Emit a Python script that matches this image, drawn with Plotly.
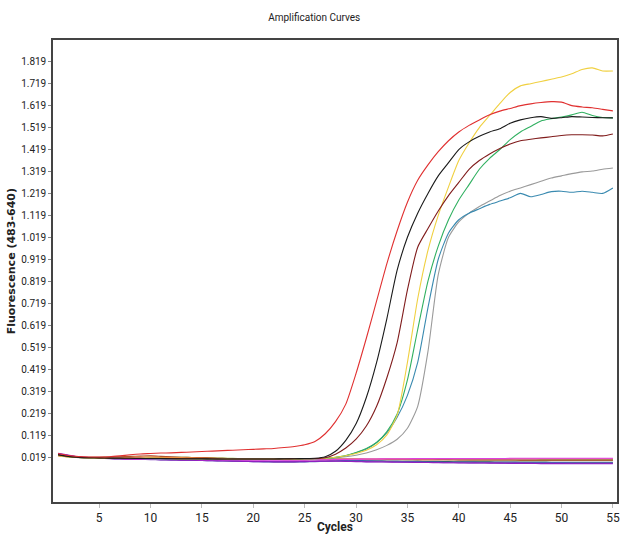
import plotly.graph_objects as go

cycles = list(range(1, 56))

y_ticks = [0.019, 0.119, 0.219, 0.319, 0.419, 0.519, 0.619, 0.719, 0.819, 0.919,
           1.019, 1.119, 1.219, 1.319, 1.419, 1.519, 1.619, 1.719, 1.819]
y_tick_text = ["%.3f" % v for v in y_ticks]
x_ticks = [5, 10, 15, 20, 25, 30, 35, 40, 45, 50, 55]

# positive samples
red = [0.035, 0.026, 0.021, 0.019, 0.019, 0.020, 0.024, 0.029, 0.033, 0.035,
       0.037, 0.038, 0.040, 0.042, 0.044, 0.046, 0.048, 0.050, 0.052, 0.054,
       0.056, 0.058, 0.062, 0.067, 0.075, 0.090, 0.125, 0.180, 0.260, 0.400,
       0.560, 0.730, 0.900, 1.050, 1.180, 1.280, 1.350, 1.410, 1.460, 1.500,
       1.530, 1.555, 1.578, 1.595, 1.607, 1.620, 1.628, 1.634, 1.638, 1.636,
       1.620, 1.614, 1.610, 1.603, 1.596]
black = [0.030, 0.022, 0.018, 0.016, 0.015, 0.014, 0.013, 0.013, 0.012, 0.012,
         0.012, 0.011, 0.011, 0.011, 0.011, 0.010, 0.010, 0.010, 0.010, 0.010,
         0.010, 0.010, 0.011, 0.011, 0.012, 0.013, 0.020, 0.045, 0.095, 0.170,
         0.290, 0.450, 0.650, 0.870, 1.020, 1.130, 1.220, 1.300, 1.360, 1.420,
         1.455, 1.480, 1.500, 1.515, 1.540, 1.555, 1.565, 1.570, 1.562, 1.565,
         1.570, 1.568, 1.566, 1.565, 1.564]
maroon = [0.028, 0.021, 0.017, 0.016, 0.015, 0.014, 0.014, 0.013, 0.013, 0.012,
          0.012, 0.012, 0.011, 0.011, 0.011, 0.011, 0.010, 0.010, 0.010, 0.010,
          0.010, 0.010, 0.010, 0.011, 0.011, 0.012, 0.016, 0.032, 0.060, 0.100,
          0.160, 0.250, 0.380, 0.540, 0.780, 0.975, 1.060, 1.140, 1.210, 1.270,
          1.330, 1.370, 1.400, 1.425, 1.445, 1.460, 1.467, 1.473, 1.478, 1.484,
          1.487, 1.487, 1.486, 1.482, 1.491]
yellow = [0.026, 0.020, 0.017, 0.015, 0.014, 0.014, 0.013, 0.013, 0.012, 0.012,
          0.012, 0.012, 0.011, 0.011, 0.011, 0.011, 0.011, 0.010, 0.010, 0.010,
          0.010, 0.010, 0.010, 0.010, 0.011, 0.011, 0.013, 0.018, 0.025, 0.035,
          0.050, 0.075, 0.120, 0.210, 0.450, 0.740, 0.960, 1.120, 1.250, 1.370,
          1.450, 1.520, 1.575, 1.630, 1.680, 1.710, 1.720, 1.730, 1.740, 1.750,
          1.765, 1.785, 1.792, 1.778, 1.778]
green = [0.027, 0.020, 0.017, 0.015, 0.014, 0.013, 0.013, 0.012, 0.012, 0.012,
         0.011, 0.011, 0.011, 0.011, 0.010, 0.010, 0.010, 0.010, 0.010, 0.010,
         0.010, 0.010, 0.010, 0.010, 0.011, 0.011, 0.013, 0.018, 0.026, 0.040,
         0.058, 0.085, 0.135, 0.215, 0.370, 0.600, 0.820, 0.980, 1.100, 1.190,
         1.260, 1.330, 1.380, 1.420, 1.465, 1.500, 1.525, 1.550, 1.560, 1.568,
         1.578, 1.590, 1.575, 1.566, 1.564]
cyan = [0.029, 0.021, 0.017, 0.015, 0.014, 0.013, 0.013, 0.012, 0.012, 0.011,
        0.011, 0.011, 0.010, 0.010, 0.010, 0.010, 0.010, 0.010, 0.010, 0.010,
        0.010, 0.010, 0.010, 0.010, 0.011, 0.011, 0.013, 0.017, 0.025, 0.038,
        0.055, 0.085, 0.130, 0.200, 0.300, 0.450, 0.700, 0.920, 1.040, 1.100,
        1.130, 1.150, 1.170, 1.185, 1.200, 1.220, 1.205, 1.215, 1.228, 1.230,
        1.225, 1.230, 1.225, 1.220, 1.245]
grey = [0.027, 0.020, 0.016, 0.015, 0.014, 0.013, 0.012, 0.012, 0.012, 0.011,
        0.011, 0.011, 0.010, 0.010, 0.010, 0.010, 0.010, 0.010, 0.010, 0.010,
        0.010, 0.010, 0.010, 0.010, 0.010, 0.011, 0.012, 0.015, 0.020, 0.027,
        0.037, 0.052, 0.072, 0.100, 0.150, 0.250, 0.500, 0.850, 1.020, 1.090,
        1.130, 1.160, 1.185, 1.210, 1.230, 1.245, 1.260, 1.275, 1.290, 1.300,
        1.310, 1.318, 1.322, 1.330, 1.336]

# negative samples (flat baselines)
neg_magenta = [0.032, 0.024, 0.018, 0.015, 0.014, 0.013, 0.012, 0.011, 0.010, 0.010,
               0.009, 0.009, 0.008, 0.008, 0.007, 0.007, 0.006, 0.006, 0.005, 0.005,
               0.004, 0.004, 0.004, 0.005, 0.005, 0.006, 0.006, 0.007, 0.008, 0.009,
               0.010, 0.010, 0.011, 0.011, 0.011, 0.012, 0.012, 0.012, 0.012, 0.012,
               0.012, 0.012, 0.012, 0.012, 0.013, 0.013, 0.013, 0.013, 0.013, 0.013,
               0.013, 0.013, 0.013, 0.013, 0.013]
neg_purple = [0.036, 0.028, 0.020, 0.016, 0.014, 0.012, 0.011, 0.010, 0.009, 0.008,
              0.007, 0.006, 0.005, 0.004, 0.003, 0.002, 0.001, 0.000, -0.001, -0.002,
              -0.002, -0.003, -0.003, -0.003, -0.002, -0.001, 0.000, 0.000, -0.001, -0.002,
              -0.003, -0.004, -0.004, -0.005, -0.005, -0.006, -0.006, -0.007, -0.007, -0.008,
              -0.008, -0.008, -0.009, -0.009, -0.010, -0.010, -0.010, -0.011, -0.011, -0.011,
              -0.012, -0.012, -0.012, -0.012, -0.012]
neg_orange = [0.025, 0.020, 0.017, 0.016, 0.016, 0.016, 0.017, 0.018, 0.019, 0.019,
              0.018, 0.017, 0.016, 0.015, 0.014, 0.013, 0.012, 0.011, 0.010, 0.009,
              0.008, 0.008, 0.008, 0.008, 0.008, 0.009, 0.009, 0.009, 0.010, 0.010,
              0.010, 0.010, 0.011, 0.011, 0.011, 0.011, 0.011, 0.012, 0.012, 0.012,
              0.012, 0.012, 0.012, 0.012, 0.012, 0.012, 0.012, 0.012, 0.012, 0.012,
              0.012, 0.012, 0.012, 0.012, 0.012]
neg_blue = [0.030, 0.023, 0.018, 0.015, 0.013, 0.012, 0.011, 0.010, 0.009, 0.008,
            0.007, 0.006, 0.005, 0.004, 0.003, 0.002, 0.001, 0.000, -0.001, -0.002,
            -0.003, -0.004, -0.004, -0.004, -0.003, -0.002, 0.000, 0.002, 0.003, 0.003,
            0.002, 0.001, 0.000, -0.001, -0.002, -0.002, -0.003, -0.003, -0.004, -0.004,
            -0.004, -0.005, -0.005, -0.005, -0.005, -0.006, -0.006, -0.006, -0.006, -0.006,
            -0.007, -0.007, -0.007, -0.007, -0.007]
neg_darkgreen = [0.028, 0.022, 0.018, 0.016, 0.015, 0.014, 0.013, 0.012, 0.011, 0.010,
                 0.009, 0.008, 0.007, 0.006, 0.005, 0.004, 0.003, 0.002, 0.001, 0.000,
                 -0.001, -0.002, -0.002, -0.002, -0.001, 0.000, 0.001, 0.002, 0.002, 0.002,
                 0.001, 0.001, 0.000, 0.000, -0.001, -0.001, -0.002, -0.002, -0.002, -0.003,
                 -0.003, -0.003, -0.003, -0.004, -0.004, -0.004, -0.004, -0.004, -0.005, -0.005,
                 -0.005, -0.005, -0.005, -0.005, -0.005]
neg_brown = [0.027, 0.022, 0.019, 0.018, 0.018, 0.019, 0.020, 0.022, 0.023, 0.024,
             0.022, 0.020, 0.018, 0.017, 0.016, 0.014, 0.013, 0.012, 0.011, 0.010,
             0.009, 0.008, 0.007, 0.007, 0.007, 0.008, 0.009, 0.010, 0.010, 0.010,
             0.009, 0.009, 0.008, 0.008, 0.008, 0.007, 0.007, 0.007, 0.007, 0.006,
             0.006, 0.006, 0.006, 0.006, 0.006, 0.005, 0.005, 0.005, 0.005, 0.005,
             0.005, 0.005, 0.005, 0.005, 0.005]
neg_tan = [0.024, 0.019, 0.017, 0.016, 0.016, 0.015, 0.015, 0.015, 0.015, 0.014,
           0.014, 0.014, 0.013, 0.013, 0.012, 0.012, 0.011, 0.011, 0.010, 0.010,
           0.009, 0.008, 0.008, 0.007, 0.007, 0.007, 0.007, 0.007, 0.007, 0.006,
           0.006, 0.006, 0.006, 0.006, 0.005, 0.005, 0.005, 0.005, 0.005, 0.004,
           0.004, 0.004, 0.004, 0.004, 0.004, 0.003, 0.003, 0.003, 0.003, 0.003,
           0.003, 0.003, 0.003, 0.003, 0.003]
neg_violet = [0.034, 0.026, 0.019, 0.015, 0.013, 0.011, 0.010, 0.009, 0.008, 0.007,
              0.006, 0.006, 0.005, 0.005, 0.004, 0.004, 0.003, 0.002, 0.001, 0.000,
              0.000, -0.001, -0.001, -0.001, -0.001, 0.000, 0.001, 0.001, 0.000, -0.001,
              -0.002, -0.002, -0.003, -0.004, -0.005, -0.005, -0.006, -0.006, -0.007, -0.007,
              -0.008, -0.008, -0.008, -0.009, -0.009, -0.009, -0.010, -0.010, -0.010, -0.010,
              -0.010, -0.010, -0.010, -0.010, -0.010]
neg_lime = [0.026, 0.020, 0.017, 0.015, 0.014, 0.014, 0.014, 0.014, 0.014, 0.015,
            0.016, 0.017, 0.018, 0.017, 0.016, 0.015, 0.014, 0.013, 0.012, 0.011,
            0.010, 0.009, 0.008, 0.008, 0.008, 0.008, 0.008, 0.009, 0.009, 0.009,
            0.009, 0.009, 0.009, 0.009, 0.008, 0.008, 0.008, 0.008, 0.008, 0.008,
            0.007, 0.007, 0.007, 0.007, 0.007, 0.007, 0.007, 0.007, 0.007, 0.007,
            0.007, 0.007, 0.007, 0.007, 0.007]
neg_pink = [0.031, 0.024, 0.019, 0.016, 0.015, 0.014, 0.014, 0.013, 0.013, 0.012,
            0.012, 0.011, 0.011, 0.010, 0.010, 0.010, 0.009, 0.009, 0.009, 0.009,
            0.009, 0.009, 0.009, 0.009, 0.009, 0.009, 0.009, 0.009, 0.009, 0.009,
            0.010, 0.010, 0.010, 0.010, 0.010, 0.010, 0.010, 0.010, 0.010, 0.010,
            0.010, 0.010, 0.010, 0.010, 0.010, 0.010, 0.010, 0.011, 0.011, 0.011,
            0.011, 0.011, 0.011, 0.011, 0.011]

negatives = [
    (neg_tan, "#d8c098"),
    (neg_lime, "#90c040"),
    (neg_brown, "#a04020"),
    (neg_darkgreen, "#206040"),
    (neg_blue, "#4060b0"),
    (neg_orange, "#f09040"),
    (neg_pink, "#f070c0"),
    (neg_violet, "#8040c0"),
    (neg_purple, "#9020c0"),
    (neg_magenta, "#e040e0"),
]
positives = [
    (grey, "#9a9a9a"),
    (cyan, "#3a8ab0"),
    (green, "#30b060"),
    (yellow, "#f0d040"),
    (maroon, "#801c1c"),
    (black, "#1a1a1a"),
    (red, "#e03030"),
]

fig = go.Figure()
for values, color in negatives + positives:
    fig.add_trace(go.Scatter(x=cycles, y=values, mode="lines",
                             line=dict(color=color, width=1.1, shape="spline", smoothing=0.6),
                             showlegend=False, hoverinfo="skip"))

narrow = "Roboto, sans-serif"

fig.update_layout(
    width=621, height=539,
    margin=dict(l=53, r=2, t=40, b=37),
    paper_bgcolor="white",
    plot_bgcolor="white",
    title=dict(text="Amplification Curves", x=0.506, xanchor="center", y=0.967,
               yanchor="middle", font=dict(family=narrow, size=10, color="#222")),
    font=dict(family=narrow, color="#222"),
    annotations=[
        dict(text="<b>Cycles</b>", xref="paper", yref="paper",
             x=0.5, y=-0.054, xanchor="center", yanchor="middle",
             showarrow=False, font=dict(family=narrow, size=12, color="#222")),
        dict(text="<b>Fluorescence (483-640)</b>", xref="paper", yref="paper",
             x=-0.0735, y=0.52, xanchor="center", yanchor="middle", textangle=-90,
             showarrow=False, font=dict(family="DejaVu Sans, sans-serif", size=11, color="#222")),
    ],
)
fig.update_xaxes(
    range=[0.5, 55.4], tickvals=x_ticks, showgrid=False, zeroline=False,
    showline=True, linecolor="#444", linewidth=1.5, mirror=True,
    ticks="outside", ticklen=4, tickcolor="#bbb",
    tickfont=dict(family=narrow, size=12, color="#222"),
)
fig.update_yaxes(
    range=[-0.186, 1.919], tickvals=y_ticks, ticktext=y_tick_text,
    showgrid=False, zeroline=False,
    showline=True, linecolor="#444", linewidth=1.5, mirror=True,
    ticks="outside", ticklen=3, tickcolor="#888",
    tickfont=dict(family=narrow, size=10, color="#222"),
)

fig.write_html("out.html", config={"displayModeBar": False},
               post_script="document.body.style.margin='0';")
